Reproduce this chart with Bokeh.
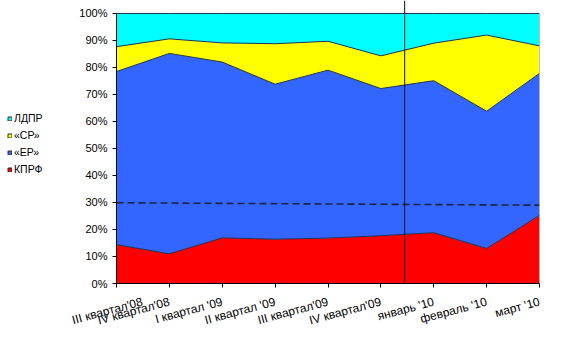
from bokeh.plotting import figure
from bokeh.models import (ColumnDataSource, FixedTicker, Legend, LegendItem,
                          PrintfTickFormatter)
from bokeh.layouts import row
from bokeh.embed import file_html
from bokeh.resources import INLINE
import math

categories = ["III квартал'08", "IV квартал'08", "I квартал '09", "II квартал '09",
              "III квартал'09", "IV квартал'09", "январь '10", "февраль '10", "март '10"]
kprf = [14.4, 11.0, 16.9, 16.4, 16.8, 17.7, 18.8, 13.0, 25.2]
er   = [64.1, 74.2, 65.1, 57.4, 62.2, 54.5, 56.3, 50.8, 52.6]
sr   = [9.2, 5.4, 7.1, 15.0, 10.7, 12.1, 13.9, 28.2, 10.2]
ldpr = [12.3, 9.4, 10.9, 11.2, 10.3, 15.7, 11.0, 8.0, 12.0]
trend_x = [0, 8]
trend_y = [29.9, 29.0]
divider_x = 5.45

x = list(range(len(categories)))
s1 = kprf
s2 = [a + b for a, b in zip(s1, er)]
s3 = [a + b for a, b in zip(s2, sr)]
s4 = [a + b for a, b in zip(s3, ldpr)]

src = ColumnDataSource(dict(x=x, kprf=kprf, er=er, sr=sr, ldpr=ldpr,
                            s1=s1, s2=s2, s3=s3, s4=s4))

FONT = "Liberation Sans"
colors = {"kprf": "#FF0000", "er": "#3366FF", "sr": "#FFFF00", "ldpr": "#00FFFF"}

LEG_W = 70

p = figure(width=574 - LEG_W, height=351, output_backend="svg", toolbar_location=None,
           x_range=(0, 8), y_range=(0, 104.8),
           min_border_left=116 - LEG_W, min_border_right=35, min_border_top=0,
           min_border_bottom=68)
p.xgrid.visible = False
p.ygrid.visible = False
p.outline_line_color = None
p.background_fill_color = "white"

p.varea_stack(["kprf", "er", "sr", "ldpr"], x="x", source=src,
              color=[colors["kprf"], colors["er"], colors["sr"], colors["ldpr"]])
for col in ["s1", "s2", "s3", "s4"]:
    p.line("x", col, source=src, line_color="#1f3050", line_width=1)
# right edge of the plot area
p.line([8, 8], [0, 100], line_color="#888888", line_width=1)

p.line(trend_x, trend_y, line_color="#1a2440", line_width=1.6, line_dash="7 4")

p.line([divider_x, divider_x], [0, 104.8], line_color="#111111", line_width=1)

# axes
p.yaxis.ticker = FixedTicker(ticks=list(range(0, 101, 10)))
p.yaxis.bounds = (0, 100)
p.yaxis.formatter = PrintfTickFormatter(format="%d%%")
p.yaxis.major_tick_out = 4
p.yaxis.major_tick_in = 0
p.yaxis.minor_tick_line_color = None
p.yaxis.axis_line_color = "black"
p.yaxis.major_tick_line_color = "black"
p.yaxis.major_label_text_font = FONT
p.yaxis.major_label_text_font_size = "11px"
p.yaxis.major_label_text_color = "black"
p.yaxis.major_label_standoff = 5

p.xaxis.ticker = FixedTicker(ticks=x)
p.xaxis.major_label_overrides = {i: c for i, c in enumerate(categories)}
p.xaxis.major_label_orientation = math.radians(15)
p.xaxis.major_tick_out = 4
p.xaxis.major_tick_in = 0
p.xaxis.minor_tick_line_color = None
p.xaxis.axis_line_color = "black"
p.xaxis.major_tick_line_color = "black"
p.xaxis.major_label_text_font = FONT
p.xaxis.major_label_text_font_size = "12px"
p.xaxis.major_label_text_color = "black"
p.xaxis.major_label_standoff = 14

# legend in its own small figure at the left
lf = figure(width=LEG_W, height=351, output_backend="svg", toolbar_location=None,
            x_range=(0, 1), y_range=(0, 1), x_axis_type=None, y_axis_type=None,
            min_border=0)
lf.grid.visible = False
lf.outline_line_color = None
names = [("ЛДПР", "ldpr"), ("«СР»", "sr"), ("«ЕР»", "er"), ("КПРФ", "kprf")]
items = []
for label, key in names:
    r = lf.quad(left=[5], right=[6], bottom=[5], top=[6], fill_color=colors[key],
                line_color="#333333", line_width=1)
    items.append(LegendItem(label=label, renderers=[r]))
legend = Legend(items=items, location=(7, 108), glyph_width=5, glyph_height=5,
                label_text_font=FONT, label_text_font_size="10.5px", label_text_color="black",
                spacing=5, padding=0, margin=0, border_line_color=None,
                background_fill_alpha=0, label_standoff=2, label_height=11)
lf.add_layout(legend)

layout = row(lf, p, spacing=0)
open("out.html", "w").write(file_html(layout, INLINE))
